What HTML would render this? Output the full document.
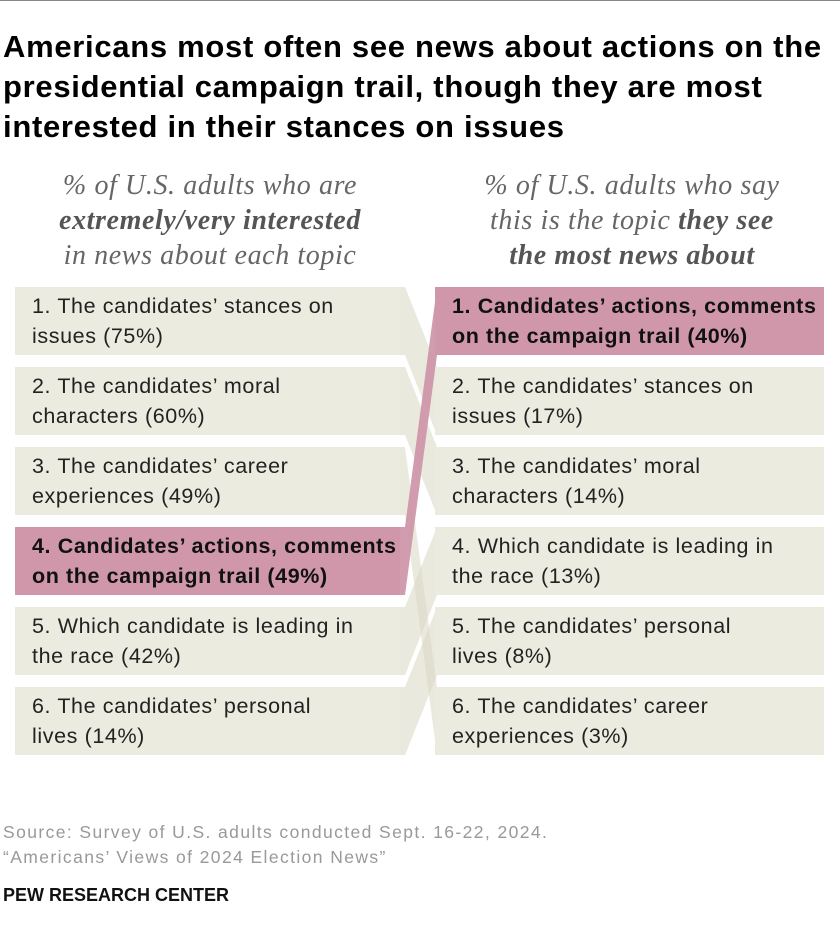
<!DOCTYPE html>
<html><head><meta charset="utf-8">
<style>
body{margin:0;width:840px;height:944px;background:#fff;font-family:"Liberation Sans",sans-serif;position:relative;overflow:hidden}
.topline{position:absolute;left:0;top:0;width:840px;height:1px;background:#888}
h1{position:absolute;left:3px;top:27px;margin:0;font-size:31px;letter-spacing:0.7px;line-height:40px;font-weight:bold;color:#000;width:836px}
.sub{position:absolute;top:168px;font-family:"Liberation Serif",serif;font-style:italic;font-size:28px;letter-spacing:0.6px;line-height:35px;color:#666;text-align:center}
.sub b{color:#555}
svg{position:absolute;left:0;top:0}
.box{position:absolute;font-size:21.5px;letter-spacing:0.6px;line-height:30px;color:#222;box-sizing:border-box;display:flex;align-items:center;white-space:pre-line;padding-left:17px}
.hl{font-weight:bold;color:#111}
.src{position:absolute;left:3px;top:820px;font-size:17.5px;letter-spacing:1.4px;line-height:25px;color:#999}
.logo{position:absolute;left:3px;top:885px;font-size:18px;font-weight:bold;color:#111}
</style></head><body>
<div class="topline"></div>
<h1>Americans most often see news about actions on the<br>presidential campaign trail, though they are most<br>interested in their stances on issues</h1>
<div class="sub" style="left:5px;width:410px">% of U.S. adults who are<br><b>extremely/very interested</b><br>in news about each topic</div>
<div class="sub" style="left:427px;width:410px">% of U.S. adults who say<br>this is the topic <b>they see<br>the most news about</b></div>
<svg width="840" height="944" id="chart"></svg>
<div id="boxes"></div>
<div class="src">Source: Survey of U.S. adults conducted Sept. 16-22, 2024.<br>“Americans’ Views of 2024 Election News”</div>
<div class="logo">PEW RESEARCH CENTER</div>
<script>
const leftLabels=["1. The candidates’ stances on\nissues (75%)","2. The candidates’ moral\ncharacters (60%)","3. The candidates’ career\nexperiences (49%)","4. Candidates’ actions, comments\non the campaign trail (49%)","5. Which candidate is leading in\nthe race (42%)","6. The candidates’ personal\nlives (14%)"];
const rightLabels=["1. Candidates’ actions, comments\non the campaign trail (40%)","2. The candidates’ stances on\nissues (17%)","3. The candidates’ moral\ncharacters (14%)","4. Which candidate is leading in\nthe race (13%)","5. The candidates’ personal\nlives (8%)","6. The candidates’ career\nexperiences (3%)"];
const leftToRight=[1,2,5,0,3,4];
const highlightLeft=3;
const rowTop=[287,367,447,527,607,687];
const rowH=68;
const svg=document.getElementById('chart');
const NS='http://www.w3.org/2000/svg';
const beige='#ecebe0', pink='#cf97a9';
leftToRight.forEach((r,i)=>{
  const p=document.createElementNS(NS,'polygon');
  const yl=rowTop[i], yr=rowTop[r];
  p.setAttribute('points',`395,${yl} 405,${yl} 437,${yr} 437,${yr+rowH} 405,${yl+rowH} 395,${yl+rowH}`);
  p.setAttribute('fill',i===highlightLeft?pink:'#d8d7c3');
  p.setAttribute('fill-opacity',i===highlightLeft?'0.95':'0.55');
  
  
  svg.appendChild(p);
});
const boxes=document.getElementById('boxes');
function mk(x,w,y,text,hl,name){
  const d=document.createElement('div');
  d.className='box'+(hl?' hl':'');
  d.style.left=x+'px';d.style.top=y+'px';d.style.width=w+'px';d.style.height=rowH+'px';
  d.style.background=hl?pink:beige;
  d.textContent=text;
  
  
  boxes.appendChild(d);
}
leftLabels.forEach((t,i)=>mk(15,385,rowTop[i],t,i===highlightLeft,'left-topic-'+(i+1)));
rightLabels.forEach((t,i)=>mk(435,389,rowTop[i],t,i===leftToRight[highlightLeft],'right-topic-'+(i+1)));
</script>
</body></html>
